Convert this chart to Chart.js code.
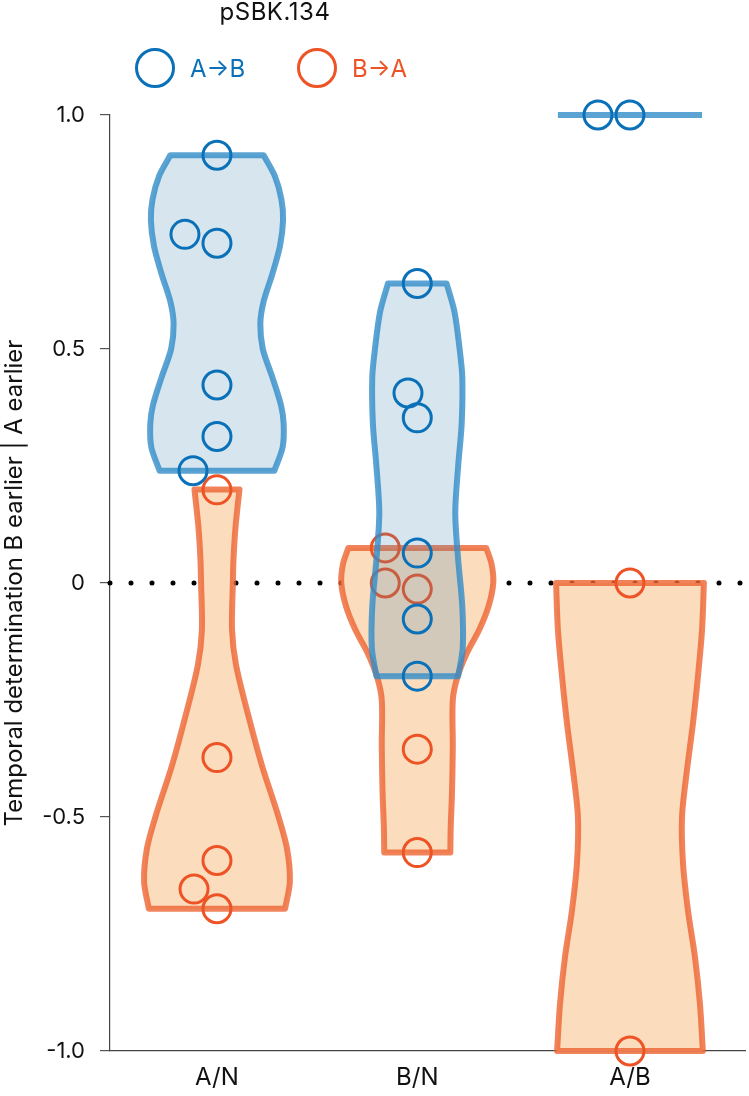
<!DOCTYPE html>
<html>
<head>
<meta charset="utf-8">
<script src="https://cdn.jsdelivr.net/npm/chart.js@4/dist/chart.umd.min.js"></script>
<style>
  html, body { margin: 0; padding: 0; background: #fff; overflow: hidden; }
  #wrap { position: relative; width: 749px; height: 1096px; font-family: Inter, "Noto Sans", sans-serif; }
  #title { position: absolute; left: 0; width: 550px; top: -2px; text-align: center; font-size: 24px; color: #111; line-height: 28px; letter-spacing: 0.5px; }
  .leg { position: absolute; top: 48px; height: 40px; display: flex; align-items: center; font-size: 24px; }
  .leg .mk { width: 34px; height: 34px; border-radius: 50%; border: 3px solid currentColor; margin-right: 15px; box-sizing: content-box; }
  canvas { position: absolute; left: 0; top: 0; }
</style>
</head>
<body>
<div id="wrap">
  <canvas id="c" width="749" height="1096"></canvas>
  <div id="title">pSBK.134</div>
  <div class="leg" style="left:135px; color:#0a71b9;"><span class="mk"></span><span>A→B</span></div>
  <div class="leg" style="left:297px; color:#ee5325;"><span class="mk"></span><span>B→A</span></div>
</div>
<script>
// ---- categories & axis ----
const categories = ['A/N', 'B/N', 'A/B'];
const catPos = [1, 1.97, 3];
const tickValues = [1.0, 0.5, 0, -0.5, -1.0];
const tickLabels = ['1.0', '0.5', '0', '-0.5', '-1.0'];
const yTitle = 'Temporal determination B earlier | A earlier';

// ---- individual observations (value, horizontal jitter) ----
const abAN = [0.914, 0.745, 0.726, 0.423, 0.313, 0.240];
const abANjit = [0, -0.155, 0, 0, 0, -0.116];
const baAN = [0.199, -0.373, -0.593, -0.654, -0.696];
const baANjit = [0, 0, 0, -0.111, 0];
const abBN = [0.640, 0.406, 0.353, 0.064, -0.077, -0.199];
const abBNjit = [0, -0.045, 0, 0, 0, 0];
const baBN = [0.075, 0.0, -0.013, -0.355, -0.576];
const baBNjit = [-0.155, -0.155, 0, 0, 0];
const abAB = [1.0, 1.0];
const abABjit = [-0.155, 0];
const baAB = [0.0, -1.0];
const baABjit = [0, 0];

// ---- violin density profiles: [value, half width] top -> bottom ----
const vioAbAN = [[0.914,0.226],[0.87,0.280],[0.82,0.312],[0.775,0.320],[0.72,0.305],[0.66,0.268],[0.60,0.225],[0.554,0.210],[0.50,0.222],[0.44,0.268],[0.38,0.310],[0.34,0.323],[0.29,0.318],[0.24,0.278]];
const vioBaAN = [[0.20,0.109],[0.12,0.090],[0.05,0.080],[0.0,0.077],[-0.10,0.073],[-0.174,0.092],[-0.28,0.150],[-0.39,0.218],[-0.495,0.295],[-0.567,0.339],[-0.638,0.353],[-0.696,0.330]];
const vioAbBN = [[0.64,0.142],[0.58,0.180],[0.50,0.205],[0.44,0.218],[0.34,0.215],[0.25,0.198],[0.15,0.184],[0.05,0.198],[-0.05,0.218],[-0.14,0.220],[-0.199,0.198]];
const vioBaBN = [[0.075,0.334],[0.04,0.360],[0.0,0.368],[-0.05,0.345],[-0.10,0.300],[-0.15,0.240],[-0.20,0.195],[-0.25,0.172],[-0.35,0.172],[-0.45,0.168],[-0.52,0.162],[-0.576,0.160]];
const vioAbAB = [[1.0,0.349]];
const vioBaAB = [[0.0,0.358],[-0.1,0.349],[-0.2,0.329],[-0.3,0.305],[-0.4,0.276],[-0.5,0.252],[-0.6,0.257],[-0.7,0.281],[-0.8,0.315],[-0.9,0.339],[-1.0,0.353]];

// ---- styles ----
const BLUE_PT = '#0a71b9';
const ORANGE_PT = '#ee5325';
const BLUE_EDGE = 'rgba(50,140,200,0.80)';
const BLUE_FILL = 'rgba(60,130,175,0.21)';
const ORANGE_EDGE = 'rgba(238,100,50,0.80)';
const ORANGE_FILL = '#fbdcbd';
const X_MIN = 0.482, X_MAX = 3.557;
const FONT = 'Inter';

function violinPath(pos, prof) {
  const n = prof.length;
  const bot = prof[n - 1];
  const pts = [{x: pos, y: bot[0]}];
  for (let i = n - 1; i >= 0; i--) {
    pts.push({x: pos + prof[i][1], y: prof[i][0]});
    if (i === n - 1 || i === 0) pts.push({x: pos + prof[i][1], y: prof[i][0]});
  }
  for (let i = 0; i < n; i++) {
    pts.push({x: pos - prof[i][1], y: prof[i][0]});
    if (i === n - 1 || i === 0) pts.push({x: pos - prof[i][1], y: prof[i][0]});
  }
  pts.push({x: pos, y: bot[0]});
  return pts;
}
function violinDS(pos, prof, edge, fillC, order) {
  return {
    data: violinPath(pos, prof), showLine: true, fill: 'shape', tension: 0.3,
    borderColor: edge, backgroundColor: fillC, borderWidth: 6, borderJoinStyle: 'round',
    pointRadius: 0, order: order, clip: false
  };
}
function lineDS(pos, prof, edge, order) {
  return {
    data: [{x: pos - prof[0][1], y: prof[0][0]}, {x: pos + prof[0][1], y: prof[0][0]}],
    showLine: true, fill: false, borderColor: edge, borderWidth: 6, pointRadius: 0,
    order: order, clip: false
  };
}
function pointsDS(pos, vals, jit, color, order) {
  return {
    data: vals.map((v, i) => ({x: pos + jit[i], y: v})), showLine: false,
    pointRadius: 14, pointBorderWidth: 3, pointBorderColor: color,
    pointBackgroundColor: 'rgba(0,0,0,0)', pointStyle: 'circle', order: order, clip: false
  };
}

const datasets = [
  { data: [{x: X_MIN, y: 0}, {x: X_MAX, y: 0}], showLine: true, borderColor: '#000', borderWidth: 5,
    borderDash: [0, 21], borderCapStyle: 'round', pointRadius: 0, fill: false, order: 10, clip: false },
  violinDS(catPos[0], vioBaAN, ORANGE_EDGE, ORANGE_FILL, 9),
  violinDS(catPos[1], vioBaBN, ORANGE_EDGE, ORANGE_FILL, 9),
  violinDS(catPos[2], vioBaAB, ORANGE_EDGE, ORANGE_FILL, 9),
  pointsDS(catPos[0], baAN, baANjit, ORANGE_PT, 8),
  pointsDS(catPos[1], baBN, baBNjit, ORANGE_PT, 8),
  pointsDS(catPos[2], baAB, baABjit, ORANGE_PT, 8),
  violinDS(catPos[0], vioAbAN, BLUE_EDGE, BLUE_FILL, 7),
  violinDS(catPos[1], vioAbBN, BLUE_EDGE, BLUE_FILL, 7),
  lineDS(catPos[2], vioAbAB, BLUE_EDGE, 7),
  pointsDS(catPos[0], abAN, abANjit, BLUE_PT, 6),
  pointsDS(catPos[1], abBN, abBNjit, BLUE_PT, 6),
  pointsDS(catPos[2], abAB, abABjit, BLUE_PT, 6)
];

new Chart(document.getElementById('c'), {
  type: 'scatter',
  data: { datasets },
  options: {
    responsive: false, animation: false, devicePixelRatio: 1,
    layout: { autoPadding: false, padding: { top: 115, right: 4, left: 0, bottom: 0 } },
    plugins: { legend: { display: false }, title: { display: false }, tooltip: { enabled: false } },
    scales: {
      x: {
        type: 'linear', min: X_MIN, max: X_MAX,
        afterBuildTicks: s => { s.ticks = catPos.map(v => ({ value: v })); },
        afterFit: s => { s.height = 45; s.paddingLeft = 0; s.paddingRight = 0; },
        ticks: { callback: (v, i) => categories[i], font: { family: FONT, size: 24 }, color: '#111', padding: 12, autoSkip: false, maxRotation: 0 },
        grid: { display: false, drawTicks: false },
        border: { display: true, color: '#444', width: 1.2 }
      },
      y: {
        type: 'linear', min: -1, max: 1,
        afterBuildTicks: s => { s.ticks = tickValues.map(v => ({ value: v })); },
        afterFit: s => { s.width = 110; s.paddingTop = 0; s.paddingBottom = 0; },
        ticks: { callback: (v, i) => tickLabels[i], font: { family: FONT, size: 22 }, color: '#111', padding: 15 },
        grid: { drawOnChartArea: false, drawTicks: true, tickLength: 10, color: '#555', lineWidth: 1.2 },
        border: { display: true, color: '#444', width: 1.2 },
        title: { display: true, text: yTitle, font: { family: FONT, size: 24 }, color: '#111', padding: { top: 0, bottom: 0 } }
      }
    }
  }
});
</script>
</body>
</html>
